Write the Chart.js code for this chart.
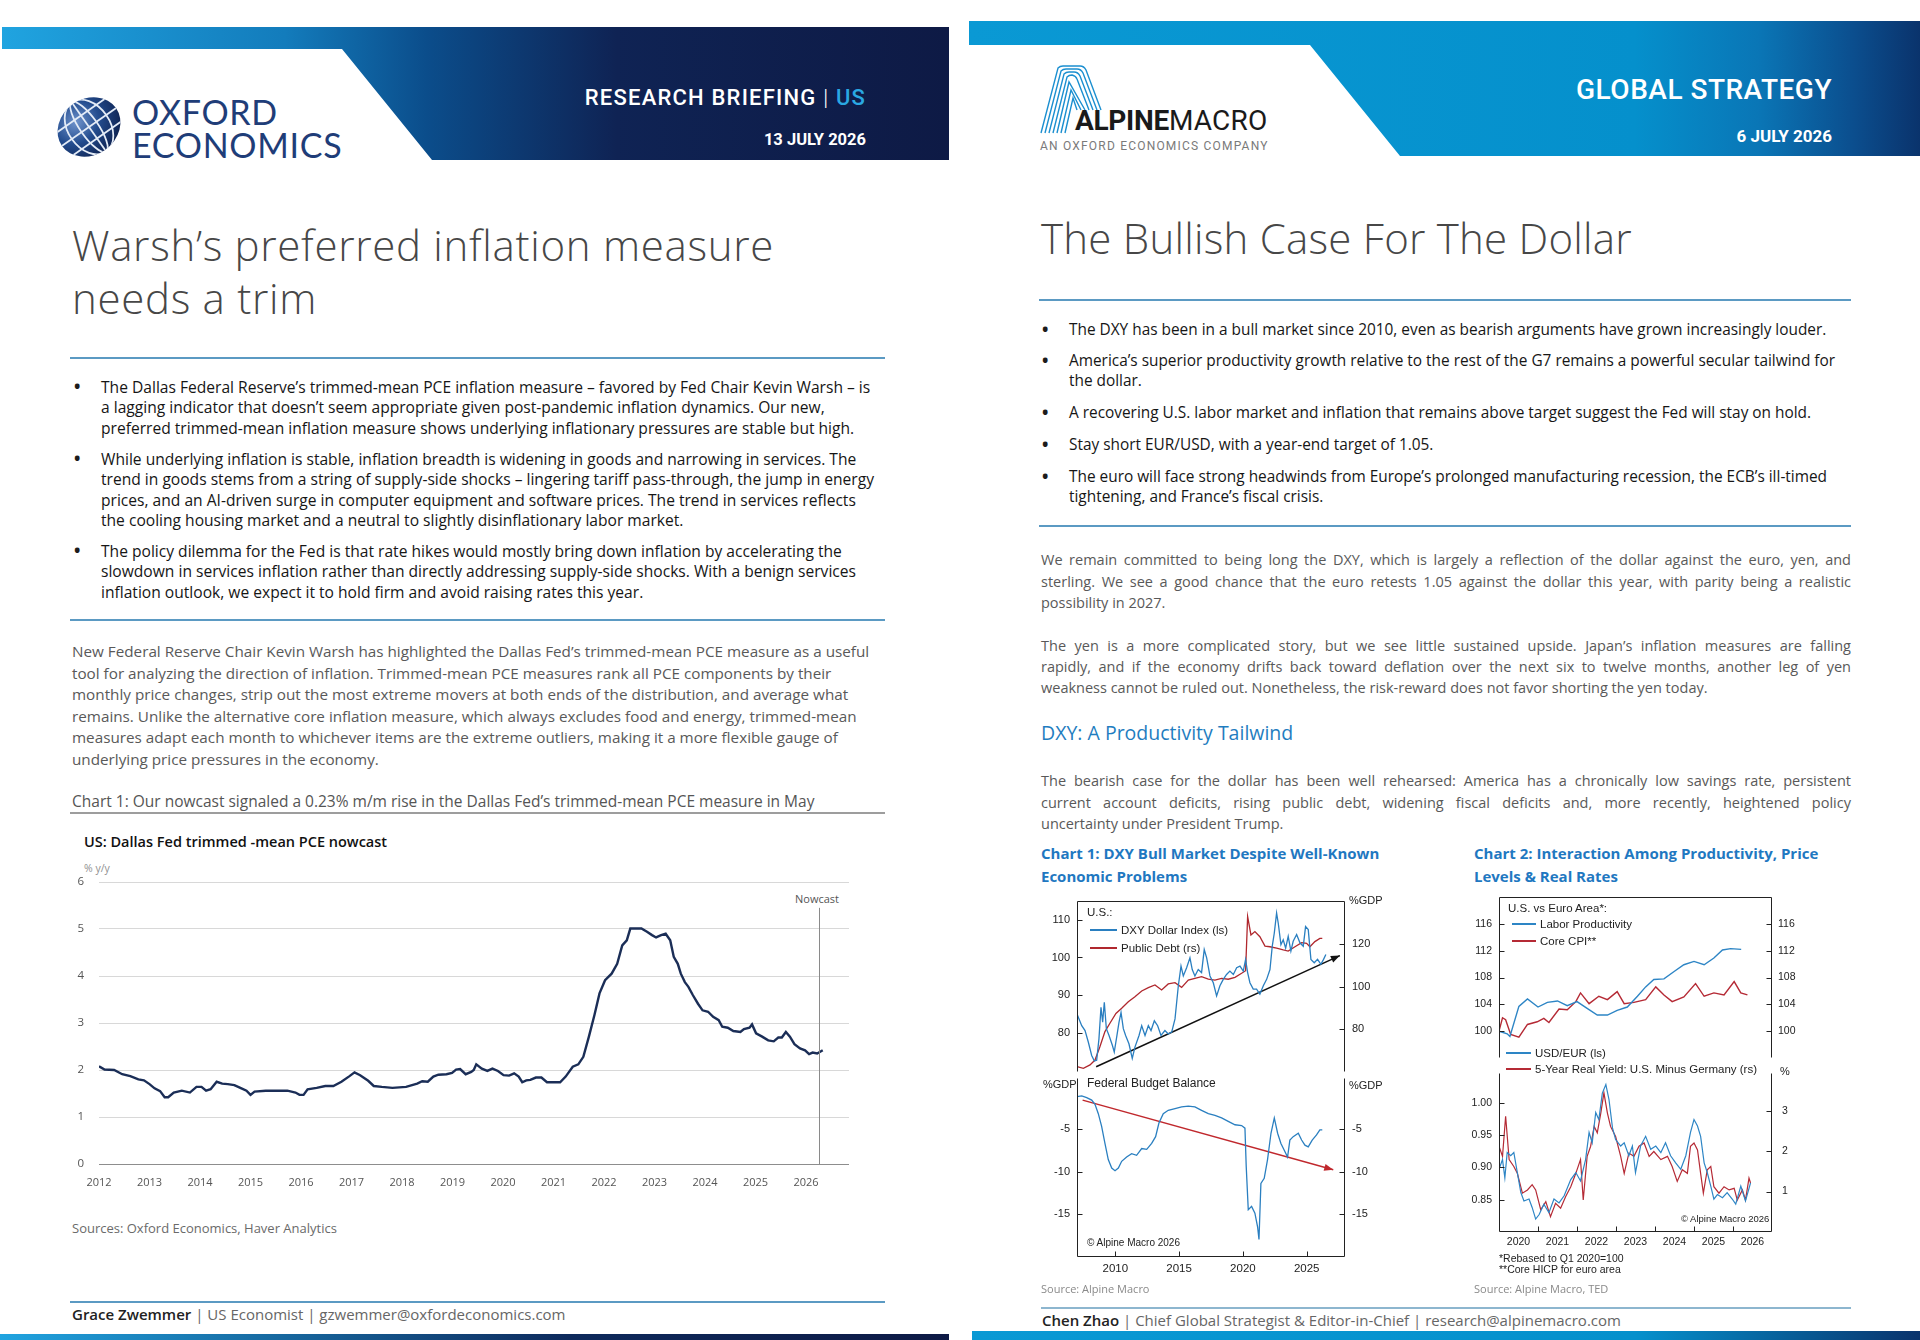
<!DOCTYPE html>
<html>
<head>
<meta charset="utf-8">
<script src="https://cdn.jsdelivr.net/npm/chart.js@4.4.1/dist/chart.umd.min.js"></script>
<style>
html,body{margin:0;padding:0;background:#fff;}
#page{position:relative;width:1920px;height:1340px;overflow:hidden;font-family:"Open Sans",Lato,sans-serif;}
.t{position:absolute;white-space:nowrap;}
canvas{position:absolute;}
.hd{font-family:Roboto,sans-serif;color:#fff;text-align:right;}
.title{font-weight:300;line-height:53px;color:#474747;font-size:42px;}
.rule{position:absolute;height:2px;background:#5b9ac3;}
.bul{font-size:15.6px;line-height:20.3px;color:#161616;font-weight:500;}
.dot{font-size:17px;font-weight:700;color:#1c1c1c;}
.para{font-size:15.25px;line-height:21.6px;color:#595959;}
.jl{display:block;width:810px;text-align:justify;text-align-last:justify;}
.ax{font-family:"Liberation Sans",Arial,sans-serif;color:#222;}
.swatch{position:absolute;height:1.6px;}
.ctitle{font-size:15px;line-height:22.5px;font-weight:700;color:#1f78c1;}
.src{font-size:11px;color:#8a8a8a;}
</style>
</head>
<body>
<div id="page">

<!-- headers -->
<svg style="position:absolute;left:0;top:0" width="1920" height="170">
  <defs>
    <linearGradient id="gL" x1="0" y1="0" x2="949" y2="0" gradientUnits="userSpaceOnUse">
      <stop offset="0" stop-color="#20a4e0"/>
      <stop offset="0.3" stop-color="#137cbc"/>
      <stop offset="0.45" stop-color="#0b4d8b"/>
      <stop offset="0.65" stop-color="#0f2354"/>
      <stop offset="1" stop-color="#0e1a45"/>
    </linearGradient>
    <linearGradient id="gR" x1="969" y1="0" x2="1920" y2="0" gradientUnits="userSpaceOnUse">
      <stop offset="0" stop-color="#0a99d4"/>
      <stop offset="0.7" stop-color="#0590cc"/>
      <stop offset="0.83" stop-color="#0a76b6"/>
      <stop offset="0.93" stop-color="#0b4e8e"/>
      <stop offset="1" stop-color="#0a336c"/>
    </linearGradient>
    <radialGradient id="globe" cx="0.38" cy="0.3" r="0.8">
      <stop offset="0" stop-color="#6f93cc"/>
      <stop offset="0.45" stop-color="#234c8e"/>
      <stop offset="1" stop-color="#0b1c48"/>
    </radialGradient>
    <clipPath id="gc"><ellipse cx="89" cy="127" rx="33" ry="28" transform="rotate(-35 89 127)"/></clipPath>
  </defs>
  <polygon points="2,27 949,27 949,160 432,160 342,49 2,49" fill="url(#gL)"/>
  <polygon points="969,21 1920,21 1920,156 1400,156 1310,45 969,45" fill="url(#gR)"/>
  <ellipse cx="89" cy="127" rx="33" ry="28" transform="rotate(-35 89 127)" fill="url(#globe)"/>
  <g clip-path="url(#gc)" stroke="#e4ecf7" stroke-width="1.8" fill="none">
    <g transform="rotate(-35 89 127)">
      <ellipse cx="89" cy="127" rx="9" ry="30"/>
      <ellipse cx="89" cy="127" rx="21" ry="30"/>
      <line x1="89" y1="95" x2="89" y2="160"/>
      <line x1="50" y1="113" x2="130" y2="113"/>
      <line x1="50" y1="127" x2="130" y2="127"/>
      <line x1="50" y1="141" x2="130" y2="141"/>
    </g>
  </g>
  <g stroke="#1b8fd0" stroke-width="1.4" fill="none">
    <path d="M1041,133 L1058,68 Q1060,66 1063,66 L1080,66 Q1084,66 1086,70 L1101,110"/>
    <path d="M1045,133 L1061,71 Q1063,69 1066,69 L1077,69 Q1081,69 1083,73 L1097,110"/>
    <path d="M1049,133 L1064,74 Q1066,72 1069,72 L1074,72 Q1078,72 1080,76 L1093,110"/>
    <path d="M1053,133 L1067,77 Q1069,75 1072,75 Q1076,76 1077,79 L1089,110"/>
    <path d="M1057,133 L1069,82 L1085,110"/>
    <path d="M1061,133 L1071,90 L1081,110"/>
    <path d="M1065,133 L1073,98 L1077,110"/>
  </g>
</svg>

<div class="t" style="left:132px;top:95px;font-family:Lato,sans-serif;font-size:34px;line-height:34px;color:#1f3d78;letter-spacing:0.7px;">OXFORD</div>
<div class="t" style="left:132px;top:128px;font-family:Lato,sans-serif;font-size:34px;line-height:34px;color:#1f3d78;letter-spacing:0.7px;">ECONOMICS</div>

<div class="t" style="left:1075px;top:107px;font-family:Roboto,sans-serif;font-size:28px;line-height:28px;color:#1a1a1a;"><b style="letter-spacing:-0.3px">ALPINE</b><span style="font-weight:400;letter-spacing:0.2px">MACRO</span></div>
<div class="t" style="left:1040px;top:140px;font-family:Roboto,sans-serif;font-size:12px;line-height:13px;color:#7a7a7a;letter-spacing:1.2px;">AN OXFORD ECONOMICS COMPANY</div>

<div class="t hd" style="right:1054px;top:87px;font-size:22px;line-height:22px;font-weight:500;letter-spacing:1.2px;">RESEARCH BRIEFING <span style="font-weight:300">|</span> <span style="color:#2aa8e2">US</span></div>
<div class="t hd" style="right:1054px;top:131px;font-size:16.5px;line-height:18px;font-weight:700;">13 JULY 2026</div>
<div class="t hd" style="right:88px;top:76px;font-size:28px;line-height:28px;font-weight:500;letter-spacing:0.5px;">GLOBAL STRATEGY</div>
<div class="t hd" style="right:88px;top:127px;font-size:17px;line-height:18px;font-weight:700;">6 JULY 2026</div>

<!-- left page text -->
<div class="t title" style="left:72px;top:218px;letter-spacing:0.7px;">Warsh’s preferred inflation measure<br>needs a trim</div>
<div class="rule" style="left:70px;top:357px;width:815px;"></div>

<div class="t dot" style="left:74px;top:377px;line-height:20.3px">•</div>
<div class="t bul" style="left:101px;top:377px;">The Dallas Federal Reserve’s trimmed-mean PCE inflation measure – favored by Fed Chair Kevin Warsh – is<br>a lagging indicator that doesn’t seem appropriate given post-pandemic inflation dynamics. Our new,<br>preferred trimmed-mean inflation measure shows underlying inflationary pressures are stable but high.</div>
<div class="t dot" style="left:74px;top:449px;line-height:20.3px">•</div>
<div class="t bul" style="left:101px;top:449px;">While underlying inflation is stable, inflation breadth is widening in goods and narrowing in services. The<br>trend in goods stems from a string of supply-side shocks – lingering tariff pass-through, the jump in energy<br>prices, and an AI-driven surge in computer equipment and software prices. The trend in services reflects<br>the cooling housing market and a neutral to slightly disinflationary labor market.</div>
<div class="t dot" style="left:74px;top:541px;line-height:20.3px">•</div>
<div class="t bul" style="left:101px;top:541px;">The policy dilemma for the Fed is that rate hikes would mostly bring down inflation by accelerating the<br>slowdown in services inflation rather than directly addressing supply-side shocks. With a benign services<br>inflation outlook, we expect it to hold firm and avoid raising rates this year.</div>
<div class="rule" style="left:70px;top:619px;width:815px;"></div>

<div class="t para" style="left:72px;top:641px;">New Federal Reserve Chair Kevin Warsh has highlighted the Dallas Fed’s trimmed-mean PCE measure as a useful<br>tool for analyzing the direction of inflation. Trimmed-mean PCE measures rank all PCE components by their<br>monthly price changes, strip out the most extreme movers at both ends of the distribution, and average what<br>remains. Unlike the alternative core inflation measure, which always excludes food and energy, trimmed-mean<br>measures adapt each month to whichever items are the extreme outliers, making it a more flexible gauge of<br>underlying price pressures in the economy.</div>

<div class="t" style="left:72px;top:791px;font-size:15.5px;line-height:20px;color:#555;">Chart 1: Our nowcast signaled a 0.23% m/m rise in the Dallas Fed’s trimmed-mean PCE measure in May</div>
<div class="rule" style="left:70px;top:812px;width:815px;background:#9d9d9d;"></div>

<div class="t" style="left:84px;top:833px;font-size:14.5px;line-height:18px;font-weight:600;color:#111;">US: Dallas Fed trimmed -mean PCE nowcast</div>
<div class="t" style="left:84px;top:861px;font-size:10.5px;line-height:14px;color:#909090;">% y/y</div>
<div class="t" style="left:817px;top:892px;font-size:11px;line-height:14px;color:#555;transform:translateX(-50%);">Nowcast</div>
<canvas id="pce" width="800" height="335" style="left:60px;top:870px;"></canvas>
<div class="t" style="left:72px;top:1219px;font-size:13px;line-height:18px;color:#6a6a6a;">Sources: Oxford Economics, Haver Analytics</div>

<div class="rule" style="left:70px;top:1301px;width:815px;"></div>
<div class="t" style="left:72px;top:1305px;font-size:15px;line-height:18px;color:#666;"><b style="color:#222;font-weight:600">Grace Zwemmer</b> | US Economist | gzwemmer@oxfordeconomics.com</div>
<div style="position:absolute;left:0;top:1334px;width:949px;height:6px;background:linear-gradient(90deg,#20a4e0,#0e2a5c 60%,#0e1a45);"></div>

<!-- right page text -->
<div class="t title" style="left:1041px;top:211px;letter-spacing:0.25px;">The Bullish Case For The Dollar</div>
<div class="rule" style="left:1039px;top:299px;width:812px;"></div>

<div class="t dot" style="left:1042px;top:320px;line-height:19.8px">•</div>
<div class="t bul" style="left:1069px;top:320px;line-height:19.8px;font-size:15.4px;">The DXY has been in a bull market since 2010, even as bearish arguments have grown increasingly louder.</div>
<div class="t dot" style="left:1042px;top:351px;line-height:19.8px">•</div>
<div class="t bul" style="left:1069px;top:351px;line-height:19.8px;font-size:15.4px;">America’s superior productivity growth relative to the rest of the G7 remains a powerful secular tailwind for<br>the dollar.</div>
<div class="t dot" style="left:1042px;top:403px;line-height:19.8px">•</div>
<div class="t bul" style="left:1069px;top:403px;line-height:19.8px;font-size:15.4px;">A recovering U.S. labor market and inflation that remains above target suggest the Fed will stay on hold.</div>
<div class="t dot" style="left:1042px;top:435px;line-height:19.8px">•</div>
<div class="t bul" style="left:1069px;top:435px;line-height:19.8px;font-size:15.4px;">Stay short EUR/USD, with a year-end target of 1.05.</div>
<div class="t dot" style="left:1042px;top:467px;line-height:19.8px">•</div>
<div class="t bul" style="left:1069px;top:467px;line-height:19.8px;font-size:15.4px;">The euro will face strong headwinds from Europe’s prolonged manufacturing recession, the ECB’s ill-timed<br>tightening, and France’s fiscal crisis.</div>
<div class="rule" style="left:1039px;top:525px;width:812px;"></div>

<div class="t para" style="left:1041px;top:549px;line-height:21.5px;font-size:14.5px;">
<span class="jl">We remain committed to being long the DXY, which is largely a reflection of the dollar against the euro, yen, and</span>
<span class="jl">sterling. We see a good chance that the euro retests 1.05 against the dollar this year, with parity being a realistic</span>
<span>possibility in 2027.</span></div>
<div class="t para" style="left:1041px;top:635px;line-height:21px;font-size:14.5px;">
<span class="jl">The yen is a more complicated story, but we see little sustained upside. Japan’s inflation measures are falling</span>
<span class="jl">rapidly, and if the economy drifts back toward deflation over the next six to twelve months, another leg of yen</span>
<span>weakness cannot be ruled out. Nonetheless, the risk-reward does not favor shorting the yen today.</span></div>
<div class="t" style="left:1041px;top:721px;font-size:19.5px;line-height:24px;font-weight:500;color:#1f7dc0;">DXY: A Productivity Tailwind</div>
<div class="t para" style="left:1041px;top:770px;line-height:21.5px;font-size:14.5px;">
<span class="jl">The bearish case for the dollar has been well rehearsed: America has a chronically low savings rate, persistent</span>
<span class="jl">current account deficits, rising public debt, widening fiscal deficits and, more recently, heightened policy</span>
<span>uncertainty under President Trump.</span></div>

<div class="t ctitle" style="left:1041px;top:842px;">Chart 1: DXY Bull Market Despite Well-Known<br>Economic Problems</div>
<div class="t ctitle" style="left:1474px;top:842px;">Chart 2: Interaction Among Productivity, Price<br>Levels &amp; Real Rates</div>

<!-- chart 1 overlays -->
<canvas id="c1top" width="348" height="181" style="left:1037px;top:895px;"></canvas>
<canvas id="c1bot" width="348" height="211" style="left:1037px;top:1074px;"></canvas>
<div class="t ax" style="left:1349px;top:894px;font-size:11px;line-height:12px;">%GDP</div>
<div class="t ax" style="left:1087px;top:905px;font-size:11.5px;line-height:14px;">U.S.:</div>
<div class="swatch" style="left:1090px;top:929px;width:27px;background:#2a7fc0;"></div>
<div class="t ax" style="left:1121px;top:923px;font-size:11.5px;line-height:14px;">DXY Dollar Index (ls)</div>
<div class="swatch" style="left:1090px;top:947px;width:27px;background:#b0282e;"></div>
<div class="t ax" style="left:1121px;top:941px;font-size:11.5px;line-height:14px;">Public Debt (rs)</div>
<div class="t ax" style="left:1043px;top:1078px;font-size:11px;line-height:12px;">%GDP</div>
<div class="t ax" style="left:1087px;top:1076px;font-size:12px;line-height:14px;">Federal Budget Balance</div>
<div class="t ax" style="left:1349px;top:1079px;font-size:11px;line-height:12px;">%GDP</div>
<div class="t ax" style="left:1087px;top:1237px;font-size:10px;line-height:12px;">© Alpine Macro 2026</div>
<div class="t src" style="left:1041px;top:1281px;">Source: Alpine Macro</div>

<!-- chart 2 overlays -->
<canvas id="c2top" width="353" height="171" style="left:1459px;top:891px;"></canvas>
<canvas id="c2bot" width="353" height="191" style="left:1459px;top:1067px;"></canvas>
<div class="t ax" style="left:1508px;top:901px;font-size:11.5px;line-height:14px;">U.S. vs Euro Area*:</div>
<div class="swatch" style="left:1512px;top:923px;width:24px;background:#2d85c5;"></div>
<div class="t ax" style="left:1540px;top:917px;font-size:11.5px;line-height:14px;">Labor Productivity</div>
<div class="swatch" style="left:1512px;top:940px;width:24px;background:#b52a35;"></div>
<div class="t ax" style="left:1540px;top:934px;font-size:11.5px;line-height:14px;">Core CPI**</div>
<div class="swatch" style="left:1506px;top:1052px;width:25px;background:#2d85c5;"></div>
<div class="t ax" style="left:1535px;top:1046px;font-size:11.5px;line-height:14px;">USD/EUR (ls)</div>
<div class="swatch" style="left:1506px;top:1068px;width:25px;background:#b52a35;"></div>
<div class="t ax" style="left:1535px;top:1062px;font-size:11.5px;line-height:14px;">5-Year Real Yield: U.S. Minus Germany (rs)</div>
<div class="t ax" style="left:1780px;top:1065px;font-size:11px;line-height:12px;">%</div>
<div class="t ax" style="left:1681px;top:1213px;font-size:9.5px;line-height:12px;">© Alpine Macro 2026</div>
<div class="t ax" style="left:1499px;top:1252px;font-size:10.5px;line-height:12px;">*Rebased to Q1 2020=100</div>
<div class="t ax" style="left:1499px;top:1263px;font-size:10.5px;line-height:12px;">**Core HICP for euro area</div>
<div class="t src" style="left:1474px;top:1281px;">Source: Alpine Macro, TED</div>

<div class="rule" style="left:1041px;top:1307px;width:810px;background:#8db6cf;"></div>
<div class="t" style="left:1042px;top:1311px;font-size:15px;line-height:18px;color:#666;"><b style="color:#222;font-weight:600">Chen Zhao</b> | Chief Global Strategist &amp; Editor-in-Chief | research@alpinemacro.com</div>
<div style="position:absolute;left:972px;top:1331px;width:948px;height:9px;background:linear-gradient(90deg,#0a99d4,#0590cc 70%,#0a336c);"></div>
</div>

<script>
// ---- Chart 1 (left page): Dallas Fed trimmed-mean PCE, % y/y
const pceYears = [2012.00,2012.11,2012.30,2012.46,2012.62,2012.78,2012.89,2013.00,2013.10,2013.21,2013.30,2013.37,2013.48,2013.64,2013.80,2013.93,
  2014.03,2014.12,2014.21,2014.33,2014.44,2014.55,2014.68,2014.82,2014.92,2015.00,2015.08,2015.30,2015.51,2015.73,2015.89,2015.97,
  2016.05,2016.13,2016.31,2016.48,2016.64,2016.80,2016.96,2017.06,2017.17,2017.33,2017.44,2017.60,2017.81,2018.08,2018.30,2018.40,
  2018.51,2018.62,2018.72,2018.88,2018.99,2019.07,2019.15,2019.26,2019.37,2019.42,2019.47,2019.58,2019.69,2019.79,2019.90,2020.01,
  2020.12,2020.22,2020.31,2020.38,2020.46,2020.54,2020.65,2020.76,2020.87,2020.99,2021.13,2021.24,2021.38,2021.49,2021.59,2021.70,
  2021.81,2021.91,2022.02,2022.15,2022.26,2022.36,2022.45,2022.52,2022.63,2022.74,2022.85,2022.95,2023.03,2023.13,2023.22,2023.31,
  2023.38,2023.46,2023.52,2023.60,2023.67,2023.76,2023.86,2023.95,2024.06,2024.16,2024.27,2024.34,2024.45,2024.56,2024.70,2024.77,
  2024.88,2024.93,2025.01,2025.13,2025.25,2025.36,2025.45,2025.52,2025.60,2025.68,2025.77,2025.88,2025.98,2026.06,2026.13,2026.22,2026.33];
const pceValues = [2.08,2.01,2.00,1.91,1.87,1.80,1.78,1.70,1.61,1.55,1.42,1.42,1.52,1.56,1.52,1.64,
  1.64,1.56,1.59,1.75,1.71,1.70,1.68,1.61,1.56,1.47,1.54,1.56,1.56,1.56,1.52,1.47,
  1.47,1.59,1.62,1.66,1.66,1.75,1.87,1.95,1.89,1.77,1.66,1.64,1.62,1.64,1.71,1.76,
  1.75,1.86,1.90,1.91,1.94,2.01,2.02,1.91,1.96,2.00,2.12,2.03,1.98,2.03,1.98,1.89,
  1.88,1.93,1.86,1.74,1.78,1.79,1.84,1.84,1.74,1.74,1.74,1.86,2.07,2.12,2.28,2.71,
  3.17,3.63,3.91,4.05,4.26,4.65,4.76,5.01,5.01,5.01,4.94,4.87,4.82,4.87,4.90,4.76,
  4.41,4.26,4.05,3.87,3.77,3.59,3.41,3.27,3.24,3.13,3.06,2.92,2.90,2.83,2.81,2.87,
  2.90,2.97,2.78,2.71,2.63,2.61,2.69,2.69,2.81,2.71,2.55,2.46,2.42,2.34,2.37,2.35,2.42];
const pceYearTicks = [2012,2013,2014,2015,2016,2017,2018,2019,2020,2021,2022,2023,2024,2025,2026];
const pceValueTicks = [0,1,2,3,4,5,6];
const nowcastYear = 2026.25;

// ---- Chart 1 (right page): DXY, public debt, budget balance
const dxyYears = [2007.00,2007.37,2007.63,2007.89,2008.15,2008.36,2008.54,2008.72,2008.88,2009.01,2009.14,2009.30,2009.51,2009.77,2009.92,
  2010.13,2010.29,2010.45,2010.63,2010.81,2011.07,2011.33,2011.54,2011.86,2012.07,2012.33,2012.59,2012.80,2013.06,2013.32,2013.58,2013.89,
  2014.15,2014.42,2014.68,2014.94,2015.15,2015.33,2015.59,2015.85,2016.03,2016.24,2016.50,2016.76,2016.97,2017.16,2017.42,2017.68,2017.94,
  2018.20,2018.46,2018.72,2018.98,2019.25,2019.51,2019.77,2020.03,2020.21,2020.37,2020.55,2020.81,2021.07,2021.33,2021.60,2021.86,
  2022.12,2022.30,2022.46,2022.64,2022.77,2022.98,2023.16,2023.35,2023.55,2023.76,2023.94,2024.21,2024.47,2024.73,2024.91,2025.12,
  2025.33,2025.59,2025.85,2026.11,2026.32,2026.50];
const dxyValues = [85.0,81.9,80.6,77.5,74.0,72.5,72.7,78.4,86.8,82.8,88.1,81.1,79.3,76.7,74.9,
  79.3,82.8,85.4,81.1,79.3,77.1,73.2,76.2,79.3,81.9,79.3,81.9,80.6,83.2,81.9,79.3,80.6,
  79.7,80.2,83.7,92.5,97.7,95.1,97.3,99.9,96.8,95.1,96.8,96.0,102.1,99.9,95.1,93.3,89.8,
  92.5,94.2,95.5,96.4,95.5,97.3,97.7,96.4,99.5,96.0,93.3,91.6,91.6,90.3,92.5,94.2,
  96.8,103.0,106.5,111.8,109.1,103.4,104.7,102.5,105.6,101.7,104.3,106.1,103.9,103.0,108.2,107.4,
  99.5,98.6,99.5,98.2,99.5,100.8];
const debtYears = [2007.0,2007.5,2008.02,2008.41,2008.80,2009.19,2009.58,2010.05,2010.50,2011.02,2011.54,2012.07,2012.59,2013.11,2013.63,
  2014.15,2014.68,2015.20,2015.72,2016.24,2016.76,2017.29,2017.81,2018.33,2018.85,2019.38,2019.90,2020.21,2020.37,2020.63,2020.94,
  2021.33,2021.73,2022.12,2022.64,2023.16,2023.55,2024.08,2024.60,2024.99,2025.25,2025.64,2026.03,2026.22];
const debtValues = [62.5,61.7,63.3,65.6,71.9,78.9,82.8,87.4,89.8,92.9,95.2,97.9,99.5,100.7,98.4,
  101.2,101.8,99.6,103.0,103.8,104.6,103.4,103.0,103.8,103.4,104.3,106.2,107.4,132.7,124.1,125.7,
  123.3,118.9,118.6,117.9,117.1,116.6,118.6,120.5,120.2,118.6,121.0,122.5,122.5];
const budgetYears = [2007.00,2007.37,2007.76,2008.15,2008.41,2008.67,2008.93,2009.19,2009.45,2009.72,2009.98,2010.24,2010.50,2010.89,2011.28,
  2011.67,2012.07,2012.46,2012.85,2013.16,2013.42,2013.76,2014.15,2014.68,2015.20,2015.72,2016.24,2016.76,2017.29,2017.81,2018.33,
  2018.85,2019.38,2019.90,2020.16,2020.26,2020.42,2020.68,2020.94,2021.15,2021.26,2021.41,2021.67,2021.93,2022.20,2022.46,2022.72,
  2022.98,2023.24,2023.50,2023.68,2023.94,2024.34,2024.60,2024.86,2025.12,2025.43,2025.77,2026.03,2026.22];
const budgetValues = [-1.2,-1.1,-1.3,-1.6,-2.1,-3.2,-4.7,-6.7,-8.6,-9.6,-9.9,-9.6,-8.8,-8.3,-7.9,
  -8.1,-7.3,-7.4,-6.7,-5.9,-4.3,-3.2,-2.8,-2.6,-2.4,-2.3,-2.4,-2.8,-3.2,-3.4,-3.7,
  -4.1,-4.5,-4.6,-4.9,-9.4,-14.5,-14.1,-14.9,-16.5,-18.0,-11.4,-10.8,-8.6,-5.5,-3.7,-5.5,
  -6.7,-7.5,-8.3,-6.3,-5.9,-5.5,-6.3,-6.9,-7.1,-6.3,-5.7,-5.1,-5.1];
const dxyTrendYears = [2008.5, 2027.6];
const dxyTrendValues = [71.0, 100.5];
const budgetTrendYears = [2007.44, 2027.08];
const budgetTrendValues = [-1.6, -9.8];
const c1YearTicks = [2010, 2015, 2020, 2025];
const c1DxyTicks = [80, 90, 100, 110];
const c1DebtTicks = [80, 100, 120];
const c1BudgetTicks = [-15, -10, -5];

// ---- Chart 2 (right page): productivity, CPI, USD/EUR, real yield gap
const prodYears = [2020.00,2020.21,2020.28,2020.51,2020.73,2021.00,2021.24,2021.50,2021.75,2022.00,2022.26,2022.52,2022.78,2023.03,
  2023.29,2023.55,2023.76,2023.97,2024.23,2024.49,2024.74,2025.00,2025.26,2025.51,2025.73,2025.94,2026.21];
const prodValues = [100,99.6,99.2,103.7,104.8,103.6,104.3,104.5,103.8,104.4,103.4,102.4,102.4,103.1,
  103.6,105.2,106.6,107.7,107.8,108.9,109.9,110.4,109.9,110.9,112.1,112.3,112.2];
const cpiYears = [2020.00,2020.09,2020.17,2020.30,2020.51,2020.73,2020.98,2021.15,2021.28,2021.54,2021.75,2021.97,2022.09,2022.31,
  2022.56,2022.78,2023.03,2023.21,2023.46,2023.76,2024.02,2024.23,2024.44,2024.74,2025.04,2025.26,2025.51,2025.77,2026.03,2026.20,2026.37];
const cpiValues = [100,102,101.7,99.5,99.1,101,101.4,101.9,101.3,103.3,103.2,104.4,105.7,104.1,
  105.2,104.7,105.9,104.1,104.3,104.7,106.6,105.4,104.4,105.1,107.1,105.2,105.7,105.4,107.4,105.7,105.4];
const fxYears = [2020.00,2020.09,2020.15,2020.21,2020.30,2020.38,2020.47,2020.56,2020.64,2020.77,2020.85,2020.94,2021.03,2021.15,2021.28,
  2021.41,2021.54,2021.67,2021.84,2021.97,2022.09,2022.22,2022.31,2022.39,2022.48,2022.56,2022.65,2022.74,2022.82,2022.91,2022.99,
  2023.12,2023.21,2023.33,2023.42,2023.50,2023.63,2023.76,2023.89,2024.02,2024.15,2024.27,2024.40,2024.53,2024.66,2024.79,2024.91,
  2025.00,2025.09,2025.17,2025.26,2025.34,2025.43,2025.51,2025.60,2025.73,2025.85,2025.98,2026.07,2026.20,2026.32,2026.45];
const fxValues = [0.897,0.912,0.884,0.923,0.918,0.923,0.892,0.861,0.848,0.851,0.838,0.820,0.827,0.843,0.830,
  0.851,0.845,0.856,0.881,0.892,0.879,0.912,0.954,0.938,0.985,0.974,1.015,1.028,1.005,0.961,0.943,
  0.933,0.938,0.918,0.933,0.892,0.933,0.948,0.928,0.933,0.923,0.938,0.918,0.907,0.897,0.918,0.954,
  0.974,0.964,0.948,0.907,0.892,0.871,0.851,0.858,0.853,0.861,0.851,0.843,0.871,0.848,0.876];
const yieldYears = [2020.00,2020.09,2020.17,2020.26,2020.38,2020.47,2020.60,2020.73,2020.85,2020.94,2021.07,2021.20,2021.32,2021.45,2021.58,
  2021.71,2021.84,2021.97,2022.09,2022.16,2022.26,2022.35,2022.44,2022.52,2022.61,2022.69,2022.78,2022.86,2022.99,2023.12,2023.21,
  2023.33,2023.46,2023.59,2023.72,2023.85,2023.97,2024.15,2024.32,2024.44,2024.57,2024.70,2024.83,2024.91,2025.00,2025.09,2025.17,
  2025.24,2025.34,2025.43,2025.51,2025.64,2025.77,2025.90,2026.03,2026.11,2026.24,2026.32,2026.41,2026.45];
const yieldValues = [2.12,1.87,2.86,1.79,1.62,1.45,0.96,1.04,1.17,1.04,0.55,0.75,0.38,0.71,0.59,
  0.88,1.12,1.45,1.79,0.79,1.87,2.12,2.61,2.45,2.94,3.44,2.94,2.61,2.36,1.87,1.45,
  1.95,1.87,2.12,2.20,1.87,1.99,1.79,1.87,1.62,1.25,1.54,1.45,2.12,2.20,2.03,1.45,
  0.96,1.54,1.62,1.12,0.96,1.12,1.04,1.08,0.79,1.04,0.79,1.33,1.21];
const c2YearLabels = [2020, 2021, 2022, 2023, 2024, 2025, 2026];
const c2YearBounds = [2021, 2022, 2023, 2024, 2025, 2026];
const c2IndexTicks = [100, 104, 108, 112, 116];
const c2FxTicks = [0.85, 0.90, 0.95, 1.00];
const c2YieldTicks = [1, 2, 3];

// ---- helpers
const pts = (xs, ys) => xs.map((x, i) => ({x: x, y: ys[i]}));
const setTicks = list => s => { s.ticks = list.map(v => ({value: v})); };
// fixed axis sizes; drop the label overhang padding so the plot area lands where we want it
const fixW = w => s => { s.width = w; s.paddingTop = 0; s.paddingBottom = 0; };
const fixH = h => s => { s.height = h; s.paddingLeft = 0; s.paddingRight = 0; };
const BLUE1 = '#2a7fc0', RED1 = '#b0282e', BLUE2 = '#2d85c5', RED2 = '#b52a35';
const axFont = {family: '"Liberation Sans", Arial, sans-serif', size: 11};
const noGrid = {display: false, drawTicks: false};

// frame + inward tick marks (right-page charts)
const framePlugin = {
  id: 'frame',
  afterDraw(chart, args, o) {
    if (!o || !o.sides) return;
    const ctx = chart.ctx, a = chart.chartArea;
    const L = Math.round(a.left) + 0.5, R = Math.round(a.right) - 0.5;
    const T = Math.round(a.top) + 0.5, B = Math.round(a.bottom) - 0.5;
    ctx.save();
    ctx.strokeStyle = '#222';
    ctx.lineWidth = 1;
    ctx.beginPath();
    if (o.sides.includes('t')) { ctx.moveTo(L, T); ctx.lineTo(R, T); }
    if (o.sides.includes('b')) { ctx.moveTo(L, B); ctx.lineTo(R, B); }
    if (o.sides.includes('l')) { ctx.moveTo(L, T); ctx.lineTo(L, B); }
    if (o.sides.includes('r')) { ctx.moveTo(R, T); ctx.lineTo(R, B); }
    (o.marks || []).forEach(m => {
      const sc = chart.scales[m.axis];
      m.values.forEach(v => {
        const p = Math.round(sc.getPixelForValue(v)) + 0.5;
        if (m.side === 'bottom') { ctx.moveTo(p, B); ctx.lineTo(p, B - 5); }
        else if (m.side === 'left') { ctx.moveTo(L, p); ctx.lineTo(L + 5, p); }
        else { ctx.moveTo(R, p); ctx.lineTo(R - 5, p); }
      });
    });
    ctx.stroke();
    ctx.restore();
  }
};

// arrow heads on trend lines
const arrowPlugin = {
  id: 'arrowHeads',
  afterDatasetsDraw(chart) {
    const ctx = chart.ctx;
    chart.data.datasets.forEach((ds, i) => {
      if (!ds.arrowHead) return;
      const d = chart.getDatasetMeta(i).data;
      const a = d[d.length - 2], b = d[d.length - 1];
      const ang = Math.atan2(b.y - a.y, b.x - a.x);
      const len = 9, half = 3.6;
      ctx.save();
      ctx.fillStyle = ds.borderColor;
      ctx.beginPath();
      ctx.moveTo(b.x, b.y);
      ctx.lineTo(b.x - len * Math.cos(ang) + half * Math.sin(ang), b.y - len * Math.sin(ang) - half * Math.cos(ang));
      ctx.lineTo(b.x - len * Math.cos(ang) - half * Math.sin(ang), b.y - len * Math.sin(ang) + half * Math.cos(ang));
      ctx.closePath();
      ctx.fill();
      ctx.restore();
    });
  }
};

// vertical nowcast marker
const nowcastPlugin = {
  id: 'nowcast',
  afterDatasetsDraw(chart, args, o) {
    if (!o || o.at == null) return;
    const ctx = chart.ctx, x = Math.round(chart.scales.x.getPixelForValue(o.at)) + 0.5;
    ctx.save();
    ctx.strokeStyle = '#8a8a8a';
    ctx.lineWidth = 1;
    ctx.beginPath();
    ctx.moveTo(x, chart.scales.y.getPixelForValue(o.top));
    ctx.lineTo(x, chart.chartArea.bottom);
    ctx.stroke();
    ctx.restore();
  }
};

Chart.register(framePlugin, arrowPlugin, nowcastPlugin);
Chart.defaults.animation = false;
Chart.defaults.responsive = false;
Chart.defaults.plugins.legend.display = false;
Chart.defaults.plugins.tooltip.enabled = false;
Chart.defaults.elements.point.radius = 0;
Chart.defaults.elements.line.tension = 0;

// left page chart
new Chart(document.getElementById('pce'), {
  type: 'line',
  data: {datasets: [{data: pts(pceYears, pceValues), borderColor: '#1b2e57', borderWidth: 2.4}]},
  options: {
    layout: {padding: {top: 12, right: 11, left: 0, bottom: 0}},
    scales: {
      x: {type: 'linear', min: 2012, max: 2026.85, afterBuildTicks: setTicks(pceYearTicks), afterFit: fixH(41),
          grid: noGrid, border: {display: false},
          ticks: {padding: 12, color: '#555', autoSkip: false, maxRotation: 0, font: {family: '"Open Sans"', size: 11}, callback: v => String(v)}},
      y: {min: 0, max: 6, afterBuildTicks: setTicks(pceValueTicks), afterFit: fixW(39),
          grid: {color: c => (c.tick && c.tick.value === 0) ? '#8d8d8d' : '#d8d8d8', drawTicks: false},
          border: {display: false},
          ticks: {padding: 15, color: '#555', font: {family: '"Open Sans"', size: 11.5}, callback: v => String(v)}}
    },
    plugins: {nowcast: {at: nowcastYear, top: 5.45}}
  }
});

// right page chart 1, top panel
new Chart(document.getElementById('c1top'), {
  type: 'line',
  data: {datasets: [
    {data: pts(dxyYears, dxyValues), yAxisID: 'y', borderColor: BLUE1, borderWidth: 1.3},
    {data: pts(debtYears, debtValues), yAxisID: 'y2', borderColor: RED1, borderWidth: 1.3},
    {data: pts(dxyTrendYears, dxyTrendValues), yAxisID: 'y', borderColor: '#111', borderWidth: 1.5, arrowHead: true}
  ]},
  options: {
    layout: {padding: {top: 6, bottom: 4, left: 0, right: 0}},
    scales: {
      x: {type: 'linear', min: 2007, max: 2028, display: false},
      y: {position: 'left', min: 69.6, max: 115, afterBuildTicks: setTicks(c1DxyTicks), afterFit: fixW(40),
          grid: noGrid, border: {display: false}, ticks: {padding: 7, color: '#222', font: axFont, callback: v => String(v)}},
      y2: {position: 'right', min: 60, max: 140, afterBuildTicks: setTicks(c1DebtTicks), afterFit: fixW(40),
          grid: noGrid, border: {display: false}, ticks: {padding: 7, color: '#222', font: axFont, callback: v => String(v)}}
    },
    plugins: {frame: {sides: 'tlr', marks: [{axis: 'y', side: 'left', values: c1DxyTicks}, {axis: 'y2', side: 'right', values: c1DebtTicks}]}}
  }
});

// right page chart 1, bottom panel
new Chart(document.getElementById('c1bot'), {
  type: 'line',
  data: {datasets: [
    {data: pts(budgetYears, budgetValues), yAxisID: 'y', borderColor: BLUE1, borderWidth: 1.3},
    {data: pts(budgetTrendYears, budgetTrendValues), yAxisID: 'y', borderColor: '#c0282d', borderWidth: 1.5, arrowHead: true}
  ]},
  options: {
    layout: {padding: {top: 4, bottom: 0, left: 0, right: 0}},
    scales: {
      x: {type: 'linear', min: 2007, max: 2028, afterBuildTicks: setTicks(c1YearTicks), afterFit: fixH(28.5),
          grid: noGrid, border: {display: false},
          ticks: {padding: 5, color: '#222', autoSkip: false, maxRotation: 0, font: {family: axFont.family, size: 11.5}, callback: v => String(v)}},
      y: {position: 'left', min: -20, max: 1, afterBuildTicks: setTicks(c1BudgetTicks), afterFit: fixW(40),
          grid: noGrid, border: {display: false}, ticks: {padding: 7, color: '#222', font: axFont, callback: v => String(v)}},
      y2: {position: 'right', min: -20, max: 1, afterBuildTicks: setTicks(c1BudgetTicks), afterFit: fixW(40),
          grid: noGrid, border: {display: false}, ticks: {padding: 7, color: '#222', font: axFont, callback: v => String(v)}}
    },
    plugins: {frame: {sides: 'lrb', marks: [{axis: 'y', side: 'left', values: c1BudgetTicks}, {axis: 'y2', side: 'right', values: c1BudgetTicks}, {axis: 'x', side: 'bottom', values: c1YearTicks}]}}
  }
});

// right page chart 2, top panel
new Chart(document.getElementById('c2top'), {
  type: 'line',
  data: {datasets: [
    {data: pts(prodYears, prodValues), yAxisID: 'y', borderColor: BLUE2, borderWidth: 1.4},
    {data: pts(cpiYears, cpiValues), yAxisID: 'y', borderColor: RED2, borderWidth: 1.4}
  ]},
  options: {
    layout: {padding: {top: 6, bottom: 4, left: 0, right: 0}},
    scales: {
      x: {type: 'linear', min: 2020, max: 2027, display: false},
      y: {position: 'left', min: 96, max: 120, afterBuildTicks: setTicks(c2IndexTicks), afterFit: fixW(40),
          grid: noGrid, border: {display: false}, ticks: {padding: 7, color: '#222', font: {family: axFont.family, size: 10.5}, callback: v => String(v)}},
      y2: {position: 'right', min: 96, max: 120, afterBuildTicks: setTicks(c2IndexTicks), afterFit: fixW(40),
          grid: noGrid, border: {display: false}, ticks: {padding: 6, color: '#222', font: {family: axFont.family, size: 10.5}, callback: v => String(v)}}
    },
    plugins: {frame: {sides: 'tlr', marks: [{axis: 'y', side: 'left', values: c2IndexTicks}, {axis: 'y2', side: 'right', values: c2IndexTicks}]}}
  }
});

// right page chart 2, bottom panel
new Chart(document.getElementById('c2bot'), {
  type: 'line',
  data: {datasets: [
    {data: pts(fxYears, fxValues), yAxisID: 'y', borderColor: BLUE2, borderWidth: 1.2},
    {data: pts(yieldYears, yieldValues), yAxisID: 'y2', borderColor: RED2, borderWidth: 1.2}
  ]},
  options: {
    layout: {padding: {top: 6, bottom: 0, left: 0, right: 0}},
    scales: {
      x: {type: 'linear', min: 2020, max: 2027, afterBuildTicks: setTicks(c2YearLabels.map(y => y + 0.5)), afterFit: fixH(26),
          grid: noGrid, border: {display: false},
          ticks: {padding: 4, color: '#222', autoSkip: false, maxRotation: 0, font: {family: axFont.family, size: 10.5}, callback: v => String(Math.floor(v))}},
      y: {position: 'left', min: 0.8, max: 1.046, afterBuildTicks: setTicks(c2FxTicks), afterFit: fixW(40),
          grid: noGrid, border: {display: false}, ticks: {padding: 7, color: '#222', font: {family: axFont.family, size: 10.5}, callback: v => v.toFixed(2)}},
      y2: {position: 'right', min: 0, max: 3.93, afterBuildTicks: setTicks(c2YieldTicks), afterFit: fixW(40),
          grid: noGrid, border: {display: false}, ticks: {padding: 10, color: '#222', font: {family: axFont.family, size: 10.5}, callback: v => String(v)}}
    },
    plugins: {frame: {sides: 'lrb', marks: [{axis: 'y', side: 'left', values: c2FxTicks}, {axis: 'y2', side: 'right', values: c2YieldTicks}, {axis: 'x', side: 'bottom', values: c2YearBounds}]}}
  }
});
</script>
</body>
</html>
